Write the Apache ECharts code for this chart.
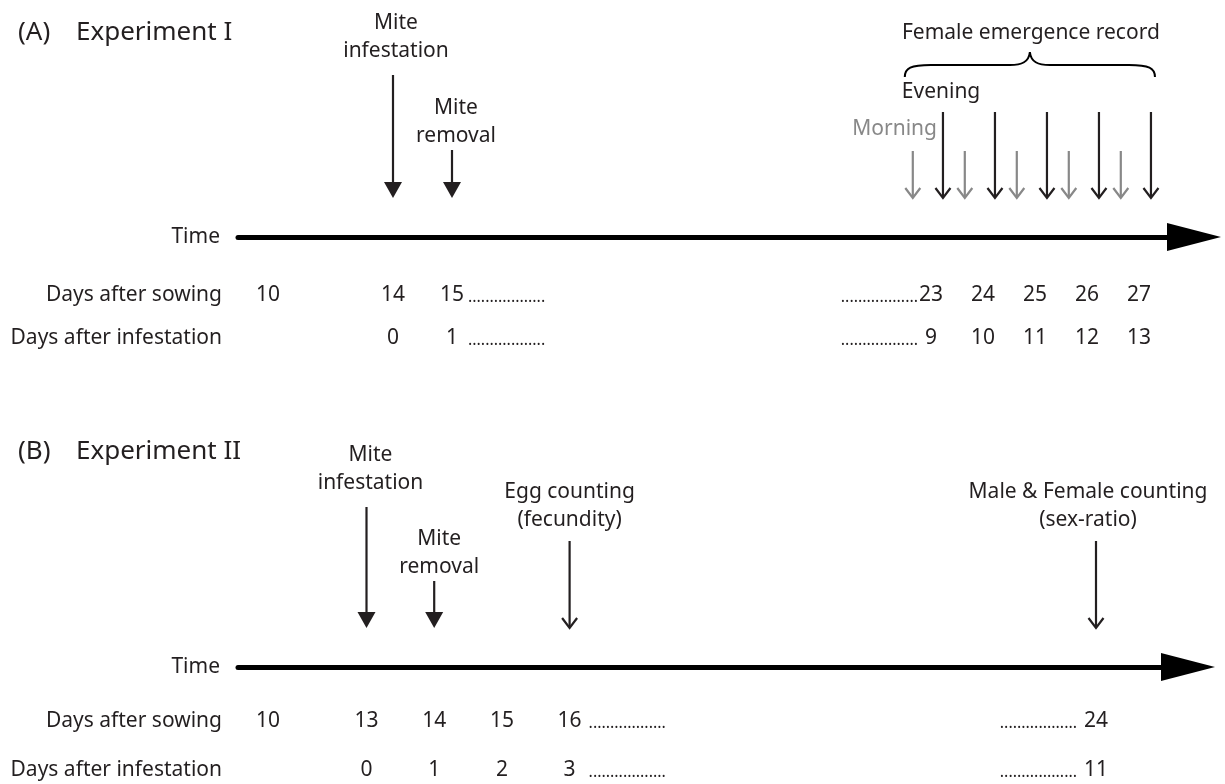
<!DOCTYPE html>
<html><head><meta charset="utf-8">
<script src="https://cdn.jsdelivr.net/npm/echarts@6/dist/echarts.min.js"></script>
<style>html,body{margin:0;padding:0;background:#fff}#c{width:1225px;height:784px}</style>
</head><body><div id="c"></div>
<script>
// ================= DATA =================
const panelTags = ['(A)', '(B)'];
const experimentNames = ['Experiment I', 'Experiment II'];
const rowLabels = ['Time', 'Days after sowing', 'Days after infestation'];

// Experiment I
const expI_sowingEarly = [10, 14, 15];
const expI_infestEarly = ['', '0', '1'];
const expI_sowingLate = [23, 24, 25, 26, 27];
const expI_infestLate = ['9', '10', '11', '12', '13'];
const expI_eventDays = [14, 15];
const expI_eventLabels = ['Mite\ninfestation', 'Mite\nremoval'];
const expI_recordDays = [23, 24, 25, 26, 27];
const recordNames = ['Morning', 'Evening'];
const recordShift = [-0.35, 0.23];          // time of day relative to the day mark
const recordTitle = 'Female emergence record';

// Experiment II
const expII_sowingEarly = [10, 13, 14, 15, 16];
const expII_infestEarly = ['', '0', '1', '2', '3'];
const expII_sowingLate = [24];
const expII_infestLate = ['11'];
const expII_eventDays = [13, 14, 16, 24];
const expII_eventLabels = ['Mite\ninfestation', 'Mite\nremoval', 'Egg counting\n(fecundity)', 'Male & Female counting\n(sex-ratio)'];

// ================= STYLE / LAYOUT =================
const FONT = '"Noto Sans", "Open Sans", sans-serif';
const INK = '#231f20';
const GREY = '#888888';
const LABEL_SIZE = 21, LABEL_LINE = 28, TITLE_SIZE = 26, DOT_SIZE = 16;
const TIP_GAP = 39;                       // arrow tip above the time line
const DOTS = '..................';
const rowOffset = [[58, 101], [54, 103]];  // day rows below time line
const dotOffset = [[16, -13], [19, -19]];  // leader dots: after / before the day number
const eventStyleI = { len: [123, 48], gap: [10, 0], dx: [3, 4], head: ['fill', 'fill'] };
const eventStyleII = { len: [121, 47, 87, 87], gap: [10, 0, 7, 7], dx: [4, 5, 0, -8], head: ['fill', 'fill', 'open', 'open'] };
const recordLen = [47, 86];

function extent(anchorDay, anchorPx, pxPerDay, leftPx, rightPx, squeezed) {
  return { min: anchorDay - (anchorPx - leftPx) / pxPerDay - (squeezed || 0),
           max: anchorDay + (rightPx - anchorPx) / pxPerDay };
}
const gridPx = [{ left: 238, right: 1194, line: 237 }, { left: 238, right: 1188, line: 667 }];
const brkA = { start: 10.5, end: 13.5, gap: 1.12 };
const brkB = { start: 10.5, end: 12.5, gap: 0.455 };
const extA0 = extent(14, 393, 59, 238, 1194, (brkA.end - brkA.start) - brkA.gap);
const extA1 = extent(25, 1035, 52, 238, 1194);
const extB0 = extent(13, 366.5, 67.7, 238, 1188, (brkB.end - brkB.start) - brkB.gap);
const extB1 = extent(24, 1096, 67.7, 238, 1188);

function txt(x, y, text, align, extra) {
  return { type: 'text', x: x, y: y,
    style: Object.assign({ text: text, fontFamily: FONT, fontSize: LABEL_SIZE, fill: INK,
      align: align, textAlign: align, verticalAlign: 'middle', textVerticalAlign: 'middle',
      lineHeight: LABEL_LINE }, extra || {}) };
}
function arrow(x, top, tip, head, color, width) {
  const out = [];
  if (head === 'fill') {
    out.push({ type: 'line', shape: { x1: x, y1: top, x2: x, y2: tip - 12 }, style: { stroke: color, lineWidth: width } });
    out.push({ type: 'polygon', shape: { points: [[x - 9, tip - 16], [x + 9, tip - 16], [x, tip]] }, style: { fill: color } });
  } else {
    out.push({ type: 'line', shape: { x1: x, y1: top, x2: x, y2: tip - 1 }, style: { stroke: color, lineWidth: width } });
    out.push({ type: 'polyline', shape: { points: [[x - 7.5, tip - 10], [x, tip], [x + 7.5, tip - 10]] },
      style: { stroke: color, lineWidth: width, fill: null } });
  }
  return out;
}

function eventSeries(xi, yi, days, labels, st, offset) {
  return { type: 'custom', coordinateSystem: 'cartesian2d', xAxisIndex: xi, yAxisIndex: yi, clip: false,
    data: days.map(d => [d, 0]),
    renderItem(params, api) {
      const i = params.dataIndex + offset;
      const p = api.coord([api.value(0), 0]);
      const tip = p[1] - TIP_GAP, top = tip - st.len[i];
      const ch = arrow(p[0], top, tip, st.head[i], INK, 2.2);
      ch.push(txt(p[0] + st.dx[i], top - st.gap[i], labels[i], 'center', { verticalAlign: 'bottom', textVerticalAlign: 'bottom' }));
      return { type: 'group', children: ch };
    } };
}
function dayRowSeries(xi, yi, sow, inf, rows, dotsAfter, dotsBefore, dOff) {
  return { type: 'custom', coordinateSystem: 'cartesian2d', xAxisIndex: xi, yAxisIndex: yi, clip: false,
    data: sow.map(d => [d, 0]),
    renderItem(params, api) {
      const i = params.dataIndex;
      const p = api.coord([api.value(0), 0]);
      const x = p[0], y0 = p[1];
      const ch = [txt(x, y0 + rows[0], String(sow[i]), 'center'), txt(x, y0 + rows[1], inf[i], 'center')];
      const dotStyle = { fontSize: DOT_SIZE, lineHeight: DOT_SIZE };
      if (dotsAfter && i === sow.length - 1) {
        ch.push(txt(x + dOff[0], y0 + rows[0] + 2, DOTS, 'left', dotStyle), txt(x + dOff[0], y0 + rows[1] + 2, DOTS, 'left', dotStyle));
      }
      if (dotsBefore && i === 0) {
        ch.push(txt(x + dOff[1], y0 + rows[0] + 2, DOTS, 'right', dotStyle), txt(x + dOff[1], y0 + rows[1] + 2, DOTS, 'right', dotStyle));
      }
      return { type: 'group', children: ch };
    } };
}

const recordData = [];
expI_recordDays.forEach(d => recordShift.forEach((s, k) => recordData.push([d + s, k])));

const option = {
  animation: false,
  backgroundColor: '#ffffff',
  grid: [
    { left: gridPx[0].left, right: 1225 - gridPx[0].right, top: 10, bottom: 784 - gridPx[0].line },
    { left: gridPx[1].left, right: 1225 - gridPx[1].right, top: 440, bottom: 784 - gridPx[1].line }
  ],
  xAxis: [
    { type: 'value', gridIndex: 0, min: extA0.min, max: extA0.max, show: false, breaks: [brkA], breakArea: { show: false } },
    { type: 'value', gridIndex: 0, min: extA1.min, max: extA1.max, position: 'bottom',
      axisLine: { show: true, symbol: ['none', 'triangle'], symbolSize: [28, 54], lineStyle: { color: '#000', width: 5 } },
      axisTick: { show: false }, axisLabel: { show: false }, splitLine: { show: false } },
    { type: 'value', gridIndex: 1, min: extB0.min, max: extB0.max, show: false, breaks: [brkB], breakArea: { show: false } },
    { type: 'value', gridIndex: 1, min: extB1.min, max: extB1.max, position: 'bottom',
      axisLine: { show: true, symbol: ['none', 'triangle'], symbolSize: [28, 54], lineStyle: { color: '#000', width: 5 } },
      axisTick: { show: false }, axisLabel: { show: false }, splitLine: { show: false } }
  ],
  yAxis: [
    { type: 'value', gridIndex: 0, min: 0, max: 1, show: false },
    { type: 'value', gridIndex: 1, min: 0, max: 1, show: false }
  ],
  graphic: [0, 1].map(k => {
    const ty = k === 0 ? 33 : 452;
    const ly = gridPx[k].line;
    return [
      txt(18, ty, panelTags[k], 'left', { fontSize: TITLE_SIZE }),
      txt(76, ty, experimentNames[k], 'left', { fontSize: TITLE_SIZE }),
      txt(220, ly, rowLabels[0], 'right'),
      txt(222, ly + rowOffset[k][0], rowLabels[1], 'right'),
      txt(222, ly + rowOffset[k][1], rowLabels[2], 'right')
    ];
  }).flat(),
  series: [
    eventSeries(0, 0, expI_eventDays, expI_eventLabels, eventStyleI, 0),
    { type: 'custom', coordinateSystem: 'cartesian2d', xAxisIndex: 1, yAxisIndex: 0, clip: false,
      data: recordData,
      renderItem(params, api) {
        const k = api.value(1);
        const p = api.coord([api.value(0), 0]);
        const tip = p[1] - TIP_GAP;
        return { type: 'group', children: arrow(p[0], tip - recordLen[k], tip, 'open', k === 0 ? GREY : INK, 2.2) };
      } },
    { type: 'custom', coordinateSystem: 'cartesian2d', xAxisIndex: 1, yAxisIndex: 0, clip: false,
      data: [[expI_recordDays[0] + recordShift[0], expI_recordDays[expI_recordDays.length - 1] + recordShift[1],
              expI_recordDays[0] + recordShift[1]]],
      renderItem(params, api) {
        const a = api.coord([api.value(0), 0]), b = api.coord([api.value(1), 0]), e = api.coord([api.value(2), 0]);
        const tip = a[1] - TIP_GAP;
        const x0 = a[0] - 8, x1 = b[0] + 4, xm = (x0 + x1) / 2;
        const yE = tip - 121, yM = yE - 12, yP = yM - 13;
        const d = `M${x0},${yE} C${x0},${yM + 3} ${x0 + 6},${yM} ${x0 + 26},${yM} L${xm - 20},${yM} ` +
          `C${xm - 8},${yM} ${xm - 1},${yM - 3} ${xm},${yP} C${xm + 1},${yM - 3} ${xm + 8},${yM} ${xm + 20},${yM} ` +
          `L${x1 - 26},${yM} C${x1 - 6},${yM} ${x1},${yM + 3} ${x1},${yE}`;
        return { type: 'group', children: [
          { type: 'path', shape: { pathData: d }, style: { stroke: '#000', lineWidth: 2, fill: null } },
          txt(xm + 1, yP - 19, recordTitle, 'center'),
          txt(x0 - 3, tip - recordLen[1] - 20, recordNames[1], 'left'),
          txt(e[0] - 6, tip - recordLen[0] - 22, recordNames[0], 'right', { fill: GREY })
        ] };
      } },
    dayRowSeries(0, 0, expI_sowingEarly, expI_infestEarly, rowOffset[0], true, false, dotOffset[0]),
    dayRowSeries(1, 0, expI_sowingLate, expI_infestLate, rowOffset[0], false, true, dotOffset[0]),
    eventSeries(2, 1, expII_eventDays.slice(0, 3), expII_eventLabels, eventStyleII, 0),
    eventSeries(3, 1, expII_eventDays.slice(3), expII_eventLabels, eventStyleII, 3),
    dayRowSeries(2, 1, expII_sowingEarly, expII_infestEarly, rowOffset[1], true, false, dotOffset[1]),
    dayRowSeries(3, 1, expII_sowingLate, expII_infestLate, rowOffset[1], false, true, dotOffset[1])
  ]
};
const chart = echarts.init(document.getElementById('c'), null, { renderer: 'canvas' });
chart.setOption(option);
</script></body></html>
